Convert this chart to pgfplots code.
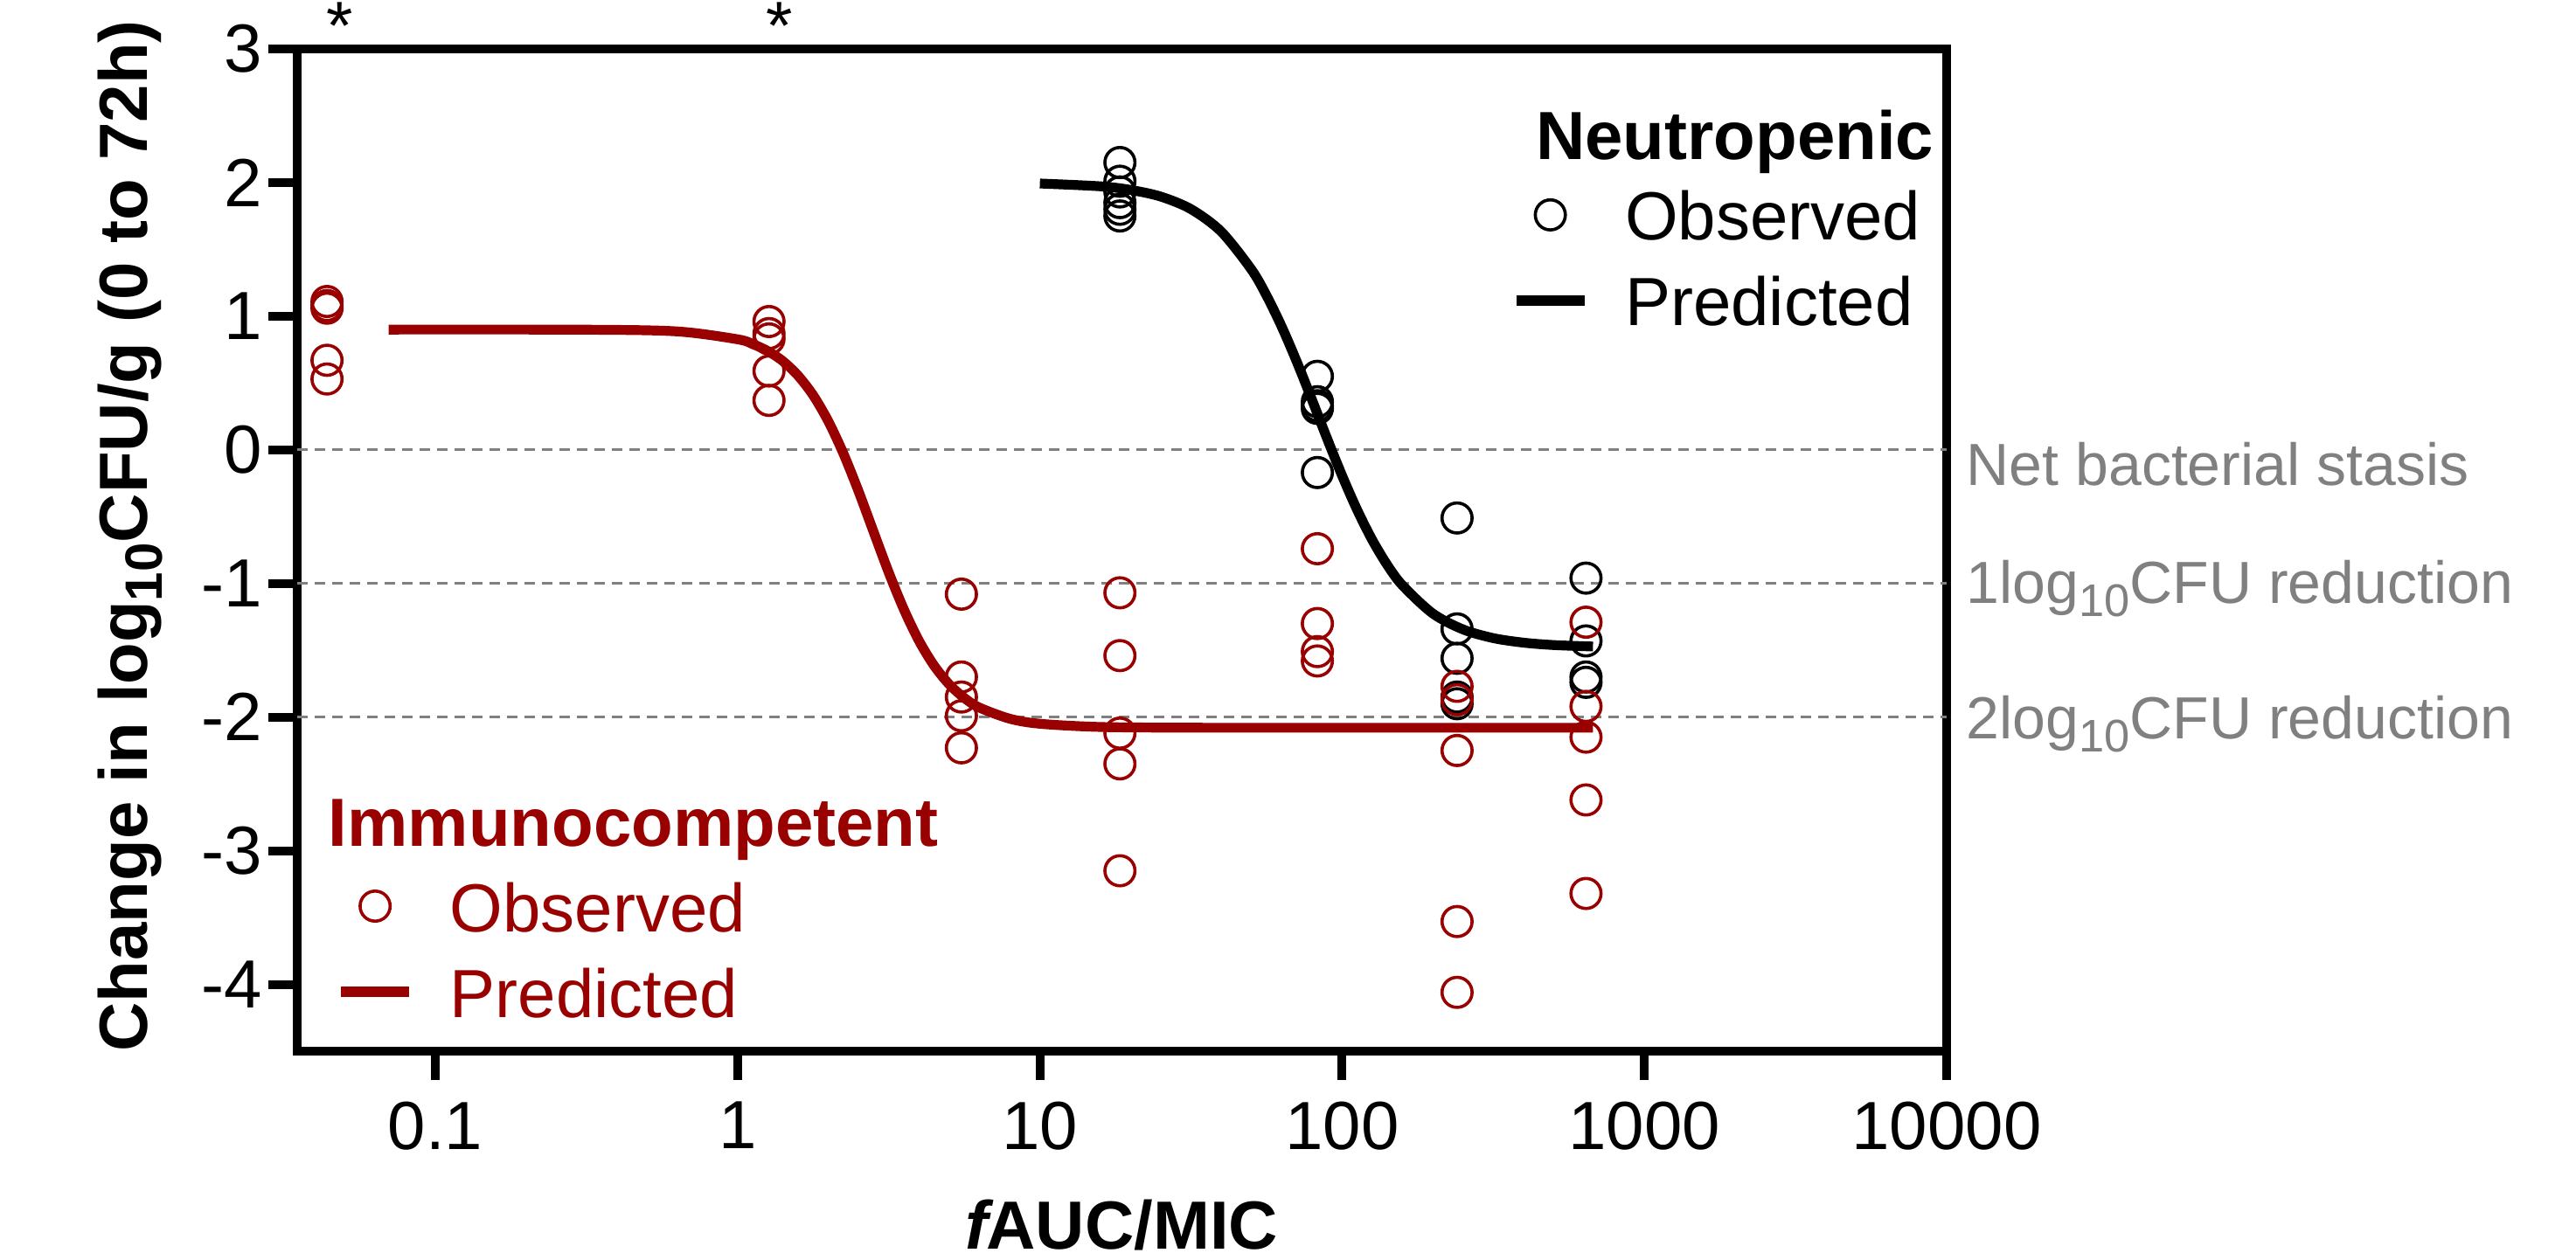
\documentclass[border=0pt]{standalone}
\usepackage{fontspec}
\setmainfont{Liberation Sans}
\usepackage{graphicx}
\usepackage{pgfplots}
\pgfplotsset{compat=1.18}
\definecolor{ired}{RGB}{153,0,0}
\definecolor{lgray}{RGB}{128,128,128}
\newcommand\sub[1]{\raisebox{-0.22em}{\scalebox{0.77}{#1}}}
\newcommand\mainfont{\fontsize{19.5}{23.4}\selectfont}
\newcommand\grayfont{\fontsize{17}{20.4}\selectfont}

\pgfplotstableread{
x y
18.4 2.15
18.4 2.01
18.4 1.93
18.4 1.85
18.4 1.80
18.4 1.75
82.8 0.55
82.8 0.36
82.8 0.33
82.8 0.31
82.8 -0.17
240 -0.51
240 -1.34
240 -1.56
240 -1.85
240 -1.90
641 -0.96
641 -1.43
641 -1.70
641 -1.74
}\neutobs

\pgfplotstableread{
x y
0.0438 1.11
0.0438 1.08
0.0438 1.06
0.0438 0.67
0.0438 0.53
1.27 0.96
1.27 0.87
1.27 0.83
1.27 0.59
1.27 0.37
5.5 -1.08
5.5 -1.70
5.5 -1.85
5.5 -1.99
5.5 -2.23
18.4 -1.07
18.4 -1.54
18.4 -2.12
18.4 -2.35
18.4 -3.15
82.8 -0.74
82.8 -1.30
82.8 -1.51
82.8 -1.58
240 -1.77
240 -1.87
240 -2.25
240 -3.53
240 -4.06
641 -1.29
641 -1.92
641 -2.15
641 -2.62
641 -3.32
}\immobs

\pgfplotstableread{
x y
10 1.993
15.849 1.972
19.953 1.945
25.119 1.895
31.623 1.801
39.811 1.633
50.119 1.349
56.234 1.154
63.096 0.922
70.795 0.659
79.433 0.376
89.125 0.086
100 -0.194
112.2 -0.451
125.89 -0.676
141.25 -0.864
158.49 -1.015
199.53 -1.225
251.19 -1.344
316.23 -1.409
398.11 -1.443
501.19 -1.461
676 -1.472
}\neutpred

\pgfplotstableread{
x y
0.070 0.900
0.3162 0.899
0.631 0.886
1.0 0.827
1.122 0.791
1.2589 0.739
1.4125 0.663
1.5849 0.555
1.7783 0.408
1.9953 0.214
2.2387 -0.028
2.5119 -0.310
2.8184 -0.615
3.1623 -0.918
3.5481 -1.194
3.9811 -1.429
4.4668 -1.615
5.0119 -1.755
5.6234 -1.857
6.3096 -1.929
7.9433 -2.012
10 -2.050
15.849 -2.074
31.623 -2.0795
100 -2.080
676 -2.080
}\immpred

\begin{document}
\begin{tikzpicture}
\useasboundingbox (-85pt,-59.75pt) rectangle (651.75pt,300.75pt);
\begin{axis}[
  scale only axis, width=471.75pt, height=286.75pt,
  at={(0pt,0pt)}, anchor=south west,
  xmode=log, xmin=0.0349, xmax=10000, ymin=-4.5, ymax=3,
  clip=false,
  legend cell align=left,
  legend image code/.code={\draw[mark repeat=2,mark phase=2,#1] plot coordinates {(0pt,2.25pt) (9.75pt,2.25pt) (19.5pt,2.25pt)};},
  font=\mainfont,
  axis line style={line width=2.5pt},
  tick style={line width=2.5pt, black},
  major tick length=8.25pt,
  tick align=outside,
  xtick pos=bottom, ytick pos=left,
  xtick={0.1,1,10,100,1000,10000},
  xticklabels={0.1,1,10,100,1000,10000},
  xminorticks=false,
  ytick={-4,-3,-2,-1,0,1,2,3},
  yticklabels={-4,-3,-2,-1,0,1,2,3},
  tick label style={font=\mainfont},
  xticklabel style={inner sep=0pt, anchor=north, yshift=-6pt},
  yticklabel style={inner sep=0pt, anchor=east, xshift=-1.7pt},
  xlabel={{\bfseries\itshape f}\kern-0.6pt\textbf{AUC/MIC}},
  ylabel={\textbf{Change in log\sub{10}CFU/g (0 to 72h)}},
  xlabel style={at={(axis description cs:0.5,-0.1975)}, anchor=base, inner sep=0pt},
  ylabel style={at={(axis description cs:-0.101,0.514)}, anchor=center, inner sep=0pt},
  legend style={draw=none, fill=none, inner sep=0pt, outer sep=0pt,
    row sep=6.5pt, column sep=10.25pt, font=\mainfont,
    nodes={inner sep=0pt, text height=14pt, text depth=4pt},
    at={(rel axis cs:0.7361,0.9434)}, anchor=north west},
]
\addlegendimage{empty legend}
\addlegendentry{\hspace*{-25.5pt}\raisebox{-1.5pt}{\textbf{Neutropenic}}}
\addplot[lgray, line width=0.75pt, dash pattern=on 3pt off 2pt, forget plot] coordinates {(0.0349,0) (10000,0)};
\addplot[lgray, line width=0.75pt, dash pattern=on 3pt off 2pt, forget plot] coordinates {(0.0349,-1) (10000,-1)};
\addplot[lgray, line width=0.75pt, dash pattern=on 3pt off 2pt, forget plot] coordinates {(0.0349,-2) (10000,-2)};
\addplot[black, only marks, mark=o, mark size=4.3pt, line width=0.9pt] table[x=x,y=y] {\neutobs};
\addlegendentry{Observed}
\addplot[black, no marks, line width=2.8pt, smooth] table[x=x,y=y] {\neutpred};
\addlegendentry{Predicted}
\node[anchor=base west, inner sep=0pt, text=lgray, font=\grayfont, xshift=5.5pt] at (axis cs:10000,-0.266) {Net bacterial stasis};
\node[anchor=base west, inner sep=0pt, text=lgray, font=\grayfont, xshift=5.5pt] at (axis cs:10000,-1.148) {1log\sub{10}CFU reduction};
\node[anchor=base west, inner sep=0pt, text=lgray, font=\grayfont, xshift=5.5pt] at (axis cs:10000,-2.161) {2log\sub{10}CFU reduction};
\node[anchor=base, inner sep=0pt, font=\mainfont] at (axis cs:0.0484,3) {*};
\node[anchor=base, inner sep=0pt, font=\mainfont] at (axis cs:1.377,3) {*};
\end{axis}
\begin{axis}[
  scale only axis, width=471.75pt, height=286.75pt,
  at={(0pt,0pt)}, anchor=south west,
  xmode=log, xmin=0.0349, xmax=10000, ymin=-4.5, ymax=3,
  clip=false, hide axis,
  legend cell align=left,
  legend image code/.code={\draw[mark repeat=2,mark phase=2,#1] plot coordinates {(0pt,2.25pt) (9.75pt,2.25pt) (19.5pt,2.25pt)};},
  legend style={draw=none, fill=none, inner sep=0pt, outer sep=0pt,
    row sep=6.5pt, column sep=10.25pt, font=\mainfont,
    nodes={inner sep=0pt, text height=14pt, text depth=4pt, text=ired},
    at={(rel axis cs:0.0236,0.2537)}, anchor=north west},
]
\addlegendimage{empty legend}
\addlegendentry{\hspace*{-34.75pt}\textbf{Immunocompetent}}
\addplot[ired, only marks, mark=o, mark size=4.3pt, line width=0.9pt] table[x=x,y=y] {\immobs};
\addlegendentry{Observed}
\addplot[ired, no marks, line width=2.8pt, smooth] table[x=x,y=y] {\immpred};
\addlegendentry{Predicted}
\end{axis}
\end{tikzpicture}
\end{document}
